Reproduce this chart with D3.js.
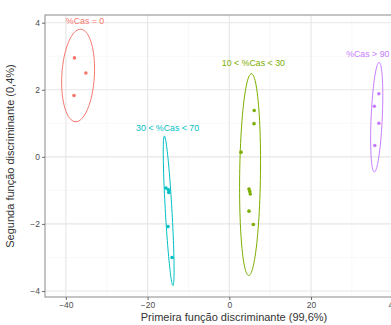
<!DOCTYPE html>
<html>
<head>
<meta charset="utf-8">
<script src="https://cdn.jsdelivr.net/npm/d3@7"></script>
<style>
  body { margin: 0; background: #fff; }
  svg text { font-family: "Liberation Sans", Arial, Helvetica, sans-serif; }
</style>
</head>
<body>
<div id="chart"></div>
<script>
// groups and their observations (LD1, LD2)
const groups = ['%Cas = 0', '30 < %Cas < 70', '10 < %Cas < 30', '%Cas > 90'];
const colors = ['#F8766D', '#00BFC4', '#7CAE00', '#C77CFF'];

const ld1 = [
  [-37.9, -35.1, -38.0],
  [-15.5, -14.9, -14.8, -15.0, -14.0],
  [6.1, 6.05, 2.86, 4.82, 4.99, 5.14, 4.82, 5.88],
  [36.6, 35.5, 36.6, 35.6]
];
const ld2 = [
  [2.95, 2.50, 1.83],
  [-0.93, -0.98, -1.06, -2.08, -3.0],
  [1.38, 0.99, 0.14, -0.96, -1.03, -1.11, -1.62, -2.02],
  [1.88, 1.51, 1.0, 0.34]
];

// where the group labels sit
const labelX = [-35.3, -15.1, 5.9, 33.9];
const labelY = [4.05, 0.86, 2.79, 3.06];

const xTicks = [-40, -20, 0, 20, 40];
const yTicks = [-4, -2, 0, 2, 4];
const xMinor = [-30, -10, 10, 30];
const yMinor = [-3, -1, 1, 3];

const W = 391, H = 325;
const margin = { top: 15, right: -32, bottom: 28, left: 45 };
const pw = W - margin.left - margin.right;
const ph = H - margin.top - margin.bottom;

const svg = d3.select('#chart').append('svg')
  .attr('width', W)
  .attr('height', H);

const x = d3.scaleLinear().domain([-45.1, 47.4]).range([0, pw]);
const y = d3.scaleLinear().domain([-4.18, 4.23]).range([ph, 0]);

svg.append('defs').append('clipPath').attr('id', 'clip')
  .append('rect').attr('width', pw).attr('height', ph);

const g = svg.append('g')
  .attr('transform', `translate(${margin.left},${margin.top})`);

// grid
const grid = g.append('g');
grid.selectAll('.xminor').data(xMinor).enter().append('line')
  .attr('x1', d => x(d)).attr('x2', d => x(d))
  .attr('y1', 0).attr('y2', ph)
  .attr('stroke', '#f3f3f3').attr('stroke-width', 0.6);
grid.selectAll('.yminor').data(yMinor).enter().append('line')
  .attr('x1', 0).attr('x2', pw)
  .attr('y1', d => y(d)).attr('y2', d => y(d))
  .attr('stroke', '#f3f3f3').attr('stroke-width', 0.6);
grid.selectAll('.xmajor').data(xTicks).enter().append('line')
  .attr('x1', d => x(d)).attr('x2', d => x(d))
  .attr('y1', 0).attr('y2', ph)
  .attr('stroke', '#e6e6e6').attr('stroke-width', 1.1);
grid.selectAll('.ymajor').data(yTicks).enter().append('line')
  .attr('x1', 0).attr('x2', pw)
  .attr('y1', d => y(d)).attr('y2', d => y(d))
  .attr('stroke', '#e6e6e6').attr('stroke-width', 1.1);

// 95% normal data ellipse, radius sqrt(qchisq(.95, 2))
const r = Math.sqrt(-2 * Math.log(0.05));
function ellipse(xs, ys) {
  const n = xs.length;
  const mx = d3.mean(xs), my = d3.mean(ys);
  let sxx = 0, syy = 0, sxy = 0;
  for (let i = 0; i < n; i++) {
    sxx += (xs[i] - mx) ** 2;
    syy += (ys[i] - my) ** 2;
    sxy += (xs[i] - mx) * (ys[i] - my);
  }
  sxx /= n - 1; syy /= n - 1; sxy /= n - 1;
  const a = Math.sqrt(sxx), b = sxy / a, c = Math.sqrt(syy - b * b);
  return d3.range(0, 101).map(k => {
    const t = k / 100 * 2 * Math.PI;
    return [mx + r * a * Math.cos(t), my + r * (b * Math.cos(t) + c * Math.sin(t))];
  });
}

const plot = g.append('g').attr('clip-path', 'url(#clip)');
const line = d3.line().x(d => x(d[0])).y(d => y(d[1]));

groups.forEach((name, i) => {
  plot.append('path')
    .attr('d', line(ellipse(ld1[i], ld2[i])))
    .attr('fill', 'none')
    .attr('stroke', colors[i])
    .attr('stroke-width', 1);

  plot.selectAll('.pt' + i)
    .data(ld1[i].map((v, j) => [v, ld2[i][j]]))
    .enter().append('circle')
    .attr('cx', d => x(d[0]))
    .attr('cy', d => y(d[1]))
    .attr('r', 1.8)
    .attr('fill', colors[i]);

  plot.append('text')
    .attr('x', x(labelX[i]))
    .attr('y', y(labelY[i]))
    .attr('dy', '0.35em')
    .attr('text-anchor', 'middle')
    .attr('font-size', '8.8px')
    .attr('fill', colors[i])
    .text(name);
});

// panel border
g.append('rect')
  .attr('width', pw).attr('height', ph)
  .attr('fill', 'none')
  .attr('stroke', '#8a8a8a')
  .attr('stroke-width', 1);

// axes
const xAxis = g.append('g')
  .attr('transform', `translate(0,${ph})`)
  .call(d3.axisBottom(x).tickValues(xTicks).tickSize(3).tickPadding(2)
    .tickFormat(d => d < 0 ? '\u2212' + Math.abs(d) : d));
const yAxis = g.append('g')
  .call(d3.axisLeft(y).tickValues(yTicks).tickSize(3).tickPadding(2)
    .tickFormat(d => d < 0 ? '\u2212' + Math.abs(d) : d));

[xAxis, yAxis].forEach(ax => {
  ax.select('.domain').remove();
  ax.selectAll('line').attr('stroke', '#6b6b6b');
  ax.selectAll('text')
    .attr('fill', '#4d4d4d')
    .style('font-size', '8.5px')
    .style('font-family', '"Liberation Sans", Arial, sans-serif');
});

// axis titles
svg.append('text')
  .attr('x', margin.left + pw / 2)
  .attr('y', H - 4)
  .attr('text-anchor', 'middle')
  .attr('font-size', '11px')
  .attr('fill', '#333')
  .text('Primeira função discriminante (99,6%)');

svg.append('text')
  .attr('transform', `translate(14,${margin.top + ph / 2}) rotate(-90)`)
  .attr('text-anchor', 'middle')
  .attr('font-size', '11px')
  .attr('fill', '#333')
  .text('Segunda função discriminante (0,4%)');
</script>
</body>
</html>
